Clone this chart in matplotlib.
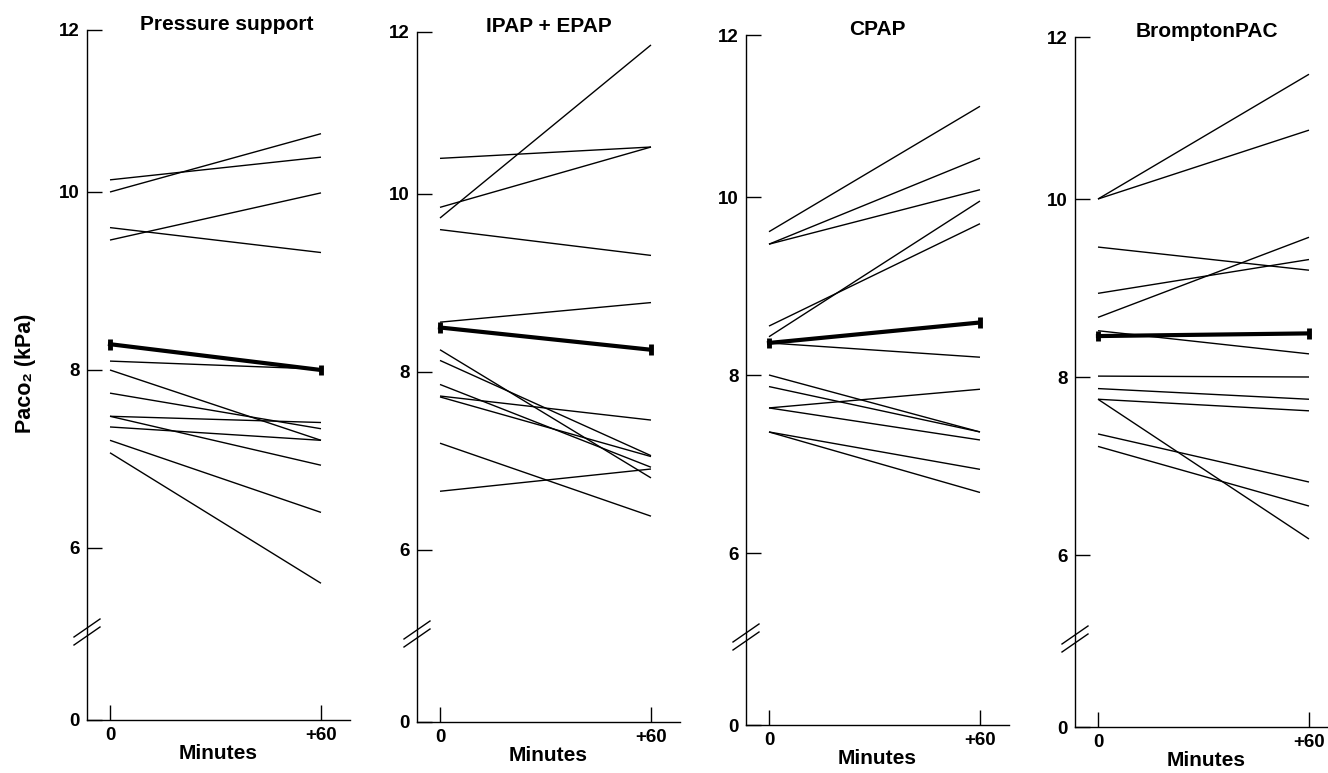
import numpy as np
import matplotlib
matplotlib.use("Agg")
import matplotlib.pyplot as plt

plt.rcParams['font.family'] = ['Liberation Sans', 'DejaVu Sans']

# Paco2 (kPa) at 0 and +60 minutes, one line per patient
titles = ["Pressure support", "IPAP + EPAP", "CPAP", "BromptonPAC"]

ps_start = [10.15, 10.00, 9.60, 9.46, 8.10, 8.00, 7.74, 7.48, 7.48, 7.36, 7.21, 7.07]
ps_end = [10.43, 10.72, 9.32, 9.99, 8.01, 7.21, 7.34, 7.41, 6.93, 7.21, 6.40, 5.59]

ipap_start = [9.73, 10.44, 9.85, 9.60, 8.56, 8.25, 8.13, 7.86, 7.73, 7.72, 7.20, 6.66]
ipap_end = [11.84, 10.58, 10.58, 9.31, 8.78, 6.81, 7.06, 6.93, 7.46, 7.05, 6.38, 6.91]

cpap_start = [9.61, 9.47, 9.47, 8.43, 8.55, 8.36, 8.00, 7.87, 7.63, 7.63, 7.36, 7.36]
cpap_end = [11.12, 10.48, 10.09, 9.955, 9.70, 8.20, 7.36, 7.36, 7.84, 7.27, 6.94, 6.68]

bpac_start = [10.00, 10.00, 9.46, 8.94, 8.67, 8.52, 8.01, 7.87, 7.75, 7.75, 7.36, 7.22]
bpac_end = [11.54, 10.85, 9.20, 9.32, 9.57, 8.26, 8.00, 7.75, 7.62, 6.18, 6.82, 6.55]

mean_start = [8.29, 8.50, 8.36, 8.46]
mean_end = [8.00, 8.25, 8.59, 8.49]
mean_sem = [0.06, 0.06, 0.06, 0.06]

times = [0, 60]
xtick_labels = ["0", "+60"]
yticks = [0, 6, 8, 10, 12]

starts = [ps_start, ipap_start, cpap_start, bpac_start]
ends = [ps_end, ipap_end, cpap_end, bpac_end]

# broken y axis: 0 at the bottom, then 6..12 on a stretched scale
scale_vals = [0, 5, 6, 8, 10, 12]
scale_pix = [0, 86, 172, 350, 528, 690]


def fwd(v):
    return np.interp(v, scale_vals, scale_pix)


def inv(p):
    return np.interp(p, scale_pix, scale_vals)


W, H = 1328, 773
fig = plt.figure(figsize=(W / 100, H / 100), dpi=100)

lefts = [87, 417, 746, 1075]
bottoms = [720, 722, 725, 727]
aw, ah = 263, 690

for i in range(4):
    ax = fig.add_axes([lefts[i] / W, (H - bottoms[i]) / H, aw / W, ah / H])
    ax.set_yscale('function', functions=(fwd, inv))

    for s, e in zip(starts[i], ends[i]):
        ax.plot(times, [s, e], color='black', lw=1.0, solid_capstyle='butt')

    ax.errorbar(times, [mean_start[i], mean_end[i]], yerr=mean_sem[i],
                color='black', lw=3.0, elinewidth=3.5, capsize=0)

    ax.set_xlim(-6.54, 68.25)
    ax.set_ylim(0, 12)
    ax.set_xticks(times)
    ax.set_xticklabels(xtick_labels)
    ax.set_yticks(yticks)
    ax.set_yticklabels([str(t) for t in yticks])
    ax.minorticks_off()

    for side in ['top', 'right']:
        ax.spines[side].set_visible(False)
    for side in ['left', 'bottom']:
        ax.spines[side].set_linewidth(1.0)

    ax.tick_params(axis='both', direction='in', length=11, width=1.0,
                   labelsize=13.5, colors='black')
    ax.tick_params(axis='y', pad=5)
    ax.tick_params(axis='x', pad=5)
    for lab in ax.get_xticklabels() + ax.get_yticklabels():
        lab.set_fontweight('bold')

    ax.set_xlabel("Minutes", fontsize=15, fontweight='bold', labelpad=0)
    ax.text(0.5 + (0.03 if i == 0 else 0), 1.0, titles[i], transform=ax.transAxes,
            ha='center', va='baseline', fontsize=15, fontweight='bold')

    # axis break marks
    for cy in (84, 92):
        ax.plot([-13 / aw, 13 / aw], [(cy - 9) / ah, (cy + 9) / ah],
                transform=ax.transAxes, color='black', lw=1.0, clip_on=False)

fig.text(25 / W, 1 - 373 / H, "Paco\u2082 (kPa)", rotation=90, ha='center',
         va='center', fontsize=15.5, fontweight='bold')

fig.savefig("out.png", dpi=100)
